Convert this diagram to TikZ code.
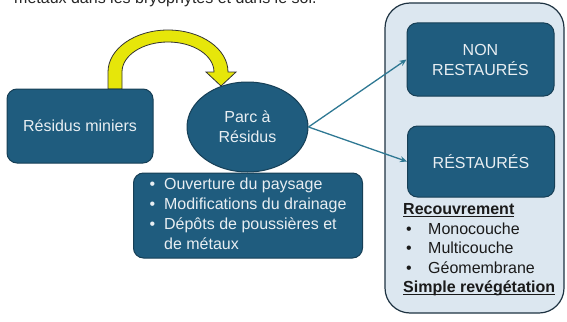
\documentclass[tikz,border=0pt]{standalone}
\usepackage{fontspec}
\setmainfont{Liberation Sans}
\usetikzlibrary{arrows.meta,shapes.geometric}
\definecolor{boxfill}{HTML}{1F5C7E}
\definecolor{boxline}{HTML}{163F56}
\definecolor{boxtext}{HTML}{E8EEF2}
\definecolor{panelfill}{HTML}{DCE7F0}
\definecolor{panelline}{HTML}{1E3342}
\definecolor{arrowc}{HTML}{2E7893}
\definecolor{yel}{HTML}{E6E60A}
\definecolor{listtext}{HTML}{1A1A1A}
\newcommand\myul[1]{\underline{\smash{#1}}}
\begin{document}
\begin{tikzpicture}[x=1pt,y=-1pt,
  bluebox/.style={draw=boxline, line width=1pt, fill=boxfill, rounded corners=10pt,
    text=boxtext, inner sep=0pt, align=center, font=\fontsize{16}{20}\selectfont},
  link/.style={draw=arrowc, line width=1.3pt, -{Stealth[length=7pt,width=6pt]}},
  bigfont/.style={font=\fontsize{16}{20}\selectfont}
]
\useasboundingbox (0,0) rectangle (567,321);
% cropped caption line at the very top
\node[anchor=base west, bigfont, text=black!85, inner sep=0] (top) at (14,4) {métaux dans les bryophytes et dans le sol.};

% right panel
\node[draw=panelline, line width=1.2pt, fill=panelfill, rounded corners=25pt,
  minimum width=179pt, minimum height=310pt, inner sep=0pt] (panel) at (474.5,158) {};

% yellow curved arrow
\fill[yel, draw=black!80, line width=0.8pt]
  (108,89) -- (108,72)
  .. controls (108,48.8) and (134.9,30) .. (168,30)
  .. controls (201.1,30) and (228,48.8) .. (228,72)
  -- (236,72) -- (221,86) -- (206,72) -- (214,72)
  .. controls (214,55.4) and (193.4,42) .. (168,42)
  .. controls (142.6,42) and (122,55.4) .. (122,72)
  -- (122,89) -- cycle;

% nodes
\node[bluebox, minimum width=146pt, minimum height=74pt] (residus) at (80,126) {Résidus miniers};
\node[bluebox, ellipse, minimum width=121pt, minimum height=90pt] (parc) at (247.5,127) {Parc à\\Résidus};
\node[bluebox, minimum width=229pt, minimum height=85pt] (impacts) at (248,215.5)
  {\begin{tabular}{@{}l@{\hspace{9pt}}l@{}}
  \textbullet & Ouverture du paysage\\
  \textbullet & Modifications du drainage\\
  \textbullet & Dépôts de poussières et\\
   & de métaux
  \end{tabular}};
\node[bluebox, minimum width=147pt, minimum height=73pt] (non) at (480.5,59.5) {NON\\RESTAURÉS};
\node[bluebox, minimum width=147pt, minimum height=71pt] (rest) at (481,161.5) {RÉSTAURÉS};

% list in the panel
\node[anchor=north west, inner sep=0pt, font=\fontsize{16}{19.5}\selectfont, text=listtext] (list) at (403,201)
  {\begin{tabular}{@{}l@{}l@{}}
  \multicolumn{2}{@{}l@{}}{\textbf{\myul{Recouvrement}}}\\
  \makebox[25pt][l]{\hspace{3pt}•} & Monocouche\\
  \makebox[25pt][l]{\hspace{3pt}•} & Multicouche\\
  \makebox[25pt][l]{\hspace{3pt}•} & Géomembrane\\
  \multicolumn{2}{@{}l@{}}{\textbf{\myul{Simple revégétation}}}
  \end{tabular}};

% connectors
\draw[link] (parc.east) -- (non.west);
\draw[link] (parc.east) -- (rest.west);
\end{tikzpicture}
\end{document}
